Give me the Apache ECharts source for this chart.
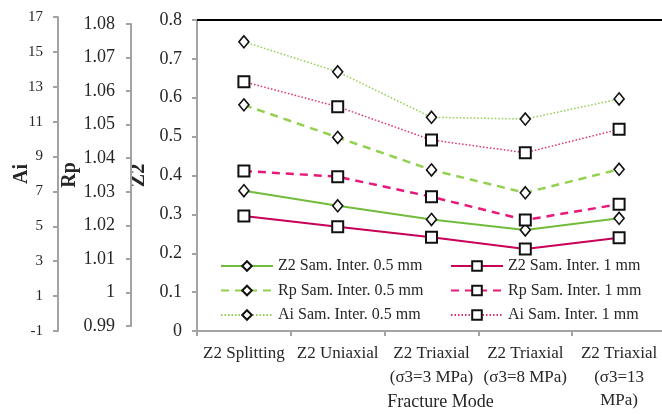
<!DOCTYPE html>
<html>
<head>
<meta charset="utf-8">
<script src="https://cdn.jsdelivr.net/npm/echarts@6/dist/echarts.min.js"></script>
<style>
html,body{margin:0;padding:0;background:#fff;}
#chart{width:662px;height:414px;}
</style>
</head>
<body>
<div id="chart"></div>
<script>
// ---- data ----
var categories = ['Z2 Splitting', 'Z2 Uniaxial', 'Z2 Triaxial\n(σ3=3 MPa)', 'Z2 Triaxial\n(σ3=8 MPa)', 'Z2 Triaxial\n(σ3=13\nMPa)'];
var z2_05 = [0.361, 0.322, 0.287, 0.260, 0.290];
var z2_1  = [0.296, 0.268, 0.241, 0.211, 0.240];
var rp_05 = [1.0559, 1.0462, 1.0365, 1.0297, 1.0367];
var rp_1  = [1.0362, 1.0345, 1.0285, 1.0216, 1.0263];
var ai_05 = [15.58, 13.86, 11.25, 11.15, 12.30];
var ai_1  = [13.29, 11.86, 9.95, 9.22, 10.56];
var seriesNames = ['Z2 Sam. Inter. 0.5 mm', 'Rp Sam. Inter. 0.5 mm', 'Ai Sam. Inter. 0.5 mm',
                   'Z2 Sam. Inter. 1 mm', 'Rp Sam. Inter. 1 mm', 'Ai Sam. Inter. 1 mm'];

var FONT = '"Liberation Serif", "Times New Roman", serif';
var AXIS_GRAY = '#a3a3a3';
var TEXT = '#262626';

function yAx(grid, min, max, interval, name, offset, fontSize, nameGap, labelMargin) {
  return {
    type: 'value', gridIndex: grid, position: 'left', offset: offset,
    min: min, max: max, interval: interval,
    name: name, nameLocation: 'middle', nameGap: nameGap, nameMoveOverlap: false,
    nameTextStyle: {fontFamily: FONT, fontWeight: 'bold', fontSize: 20, color: TEXT},
    axisLine: {show: true, lineStyle: {color: AXIS_GRAY, width: 2}},
    axisTick: {show: true, inside: false, length: 5, lineStyle: {color: AXIS_GRAY, width: 2}},
    axisLabel: {fontFamily: FONT, fontSize: fontSize, color: TEXT, margin: labelMargin,
      formatter: function (v) { return String(Number(v.toFixed(4))); }},
    splitLine: {show: false}
  };
}

function xHidden(grid) {
  return {type: 'category', gridIndex: grid, data: categories, show: false, boundaryGap: true};
}

var diamond = {symbol: 'diamond', symbolSize: [10, 12], itemStyle: {color: '#fff', borderColor: '#111', borderWidth: 1.6}};
var square = {symbol: 'rect', symbolSize: 11, itemStyle: {color: '#fff', borderColor: '#111', borderWidth: 2}};

function ser(name, data, grid, mark, color, type, width) {
  return Object.assign({
    name: name, type: 'line', data: data, xAxisIndex: grid, yAxisIndex: grid,
    showAllSymbol: true, animation: false,
    lineStyle: {color: color, type: type, width: width}
  }, JSON.parse(JSON.stringify(mark)));
}

var option = {
  backgroundColor: '#fff',
  animation: false,
  grid: [
    {left: 197, top: 20, width: 469, height: 311, outerBoundsMode: 'none', containLabel: false},
    {left: 197, top: 24, width: 469, height: 302, outerBoundsMode: 'none', containLabel: false},
    {left: 197, top: 17, width: 469, height: 314, outerBoundsMode: 'none', containLabel: false}
  ],
  xAxis: [
    {
      type: 'category', gridIndex: 0, data: categories, boundaryGap: true,
      name: 'Fracture Mode', nameLocation: 'middle', nameGap: 62, nameMoveOverlap: false,
      nameTextStyle: {fontFamily: FONT, fontSize: 18, color: TEXT, padding: [0, 0, 0, 18]},
      axisLine: {lineStyle: {color: AXIS_GRAY, width: 2}},
      axisTick: {show: true, inside: false, length: 5, alignWithLabel: false, lineStyle: {color: AXIS_GRAY, width: 2}},
      axisLabel: {interval: 0, fontFamily: FONT, fontSize: 17, color: TEXT, lineHeight: 23.5, margin: 11}
    },
    xHidden(1),
    xHidden(2),
    {
      type: 'category', gridIndex: 0, data: categories, position: 'top',
      axisLine: {show: true, lineStyle: {color: '#000', width: 2}},
      axisTick: {show: false}, axisLabel: {show: false}
    }
  ],
  yAxis: [
    yAx(0, 0, 0.8, 0.1, 'Z2', 0, 18, 48, 15),
    yAx(1, 0.99, 1.08, 0.01, 'Rp', 66, 18, 51, 16),
    yAx(2, -1, 17, 2, 'Ai', 139, 15, 26, 15)
  ],
  legend: [
    {
      orient: 'vertical', left: 220, top: 258, padding: 0, itemWidth: 52, itemHeight: 12, itemGap: 8.5,
      data: [seriesNames[0], seriesNames[1], seriesNames[2]],
      textStyle: {fontFamily: FONT, fontSize: 16, color: TEXT},
      selectedMode: false
    },
    {
      orient: 'vertical', left: 450, top: 258, padding: 0, itemWidth: 52, itemHeight: 12, itemGap: 8.5,
      data: [seriesNames[3], seriesNames[4], seriesNames[5]],
      textStyle: {fontFamily: FONT, fontSize: 16, color: TEXT},
      selectedMode: false
    }
  ],
  series: [
    ser(seriesNames[0], z2_05, 0, diamond, '#72bb3c', 'solid', 2),
    ser(seriesNames[1], rp_05, 1, diamond, '#92d050', [8, 6], 2.5),
    ser(seriesNames[2], ai_05, 2, diamond, '#92d050', [1.5, 2], 1.5),
    ser(seriesNames[3], z2_1, 0, square, '#c80058', 'solid', 2),
    ser(seriesNames[4], rp_1, 1, square, '#e8197a', [8, 6], 2.5),
    ser(seriesNames[5], ai_1, 2, square, '#e0306f', [1.5, 2], 1.5)
  ]
};

var chart = echarts.init(document.getElementById('chart'), null, {renderer: 'canvas'});
chart.setOption(option);
</script>
</body>
</html>
